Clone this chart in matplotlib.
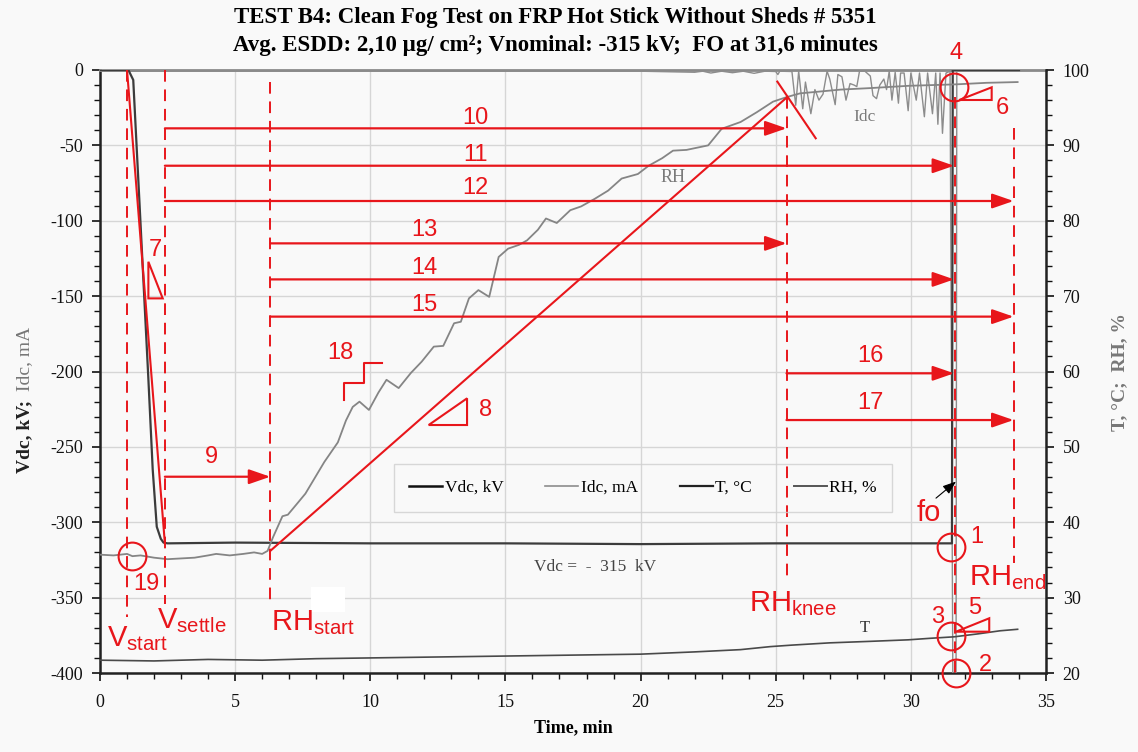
import matplotlib
matplotlib.use('Agg')

import matplotlib.pyplot as plt
from matplotlib.patches import Polygon, Rectangle
from matplotlib.lines import Line2D

plt.rcParams['font.family'] = 'Liberation Serif'
plt.rcParams['axes.unicode_minus'] = False
plt.rcParams['mathtext.fontset'] = 'custom'
plt.rcParams['mathtext.rm'] = 'Liberation Sans'
plt.rcParams['mathtext.it'] = 'Liberation Sans:italic'
plt.rcParams['mathtext.bf'] = 'Liberation Sans:bold'

RED = '#e8161b'
SANS = 'Liberation Sans'

# --- test record (time in minutes) ---
vdc_t = [0.0, 1.05, 1.23, 1.5, 1.79, 1.95, 2.1, 2.25, 2.35, 2.5, 5.0, 10.0, 15.0, 20.0, 25.0, 30.0, 31.52, 31.55, 34.0]
vdc_kv = [0, 0, -6.6, -102, -205, -265, -303, -311, -313.5, -314, -313.5, -314, -314, -314.5, -314, -314, -314, 0, 0]

idc_t = [0.0, 20.0, 22.0, 22.3, 22.6, 23.0, 23.4, 23.8, 24.2, 24.6, 25.0, 25.08, 25.15, 25.6,
         25.74, 25.85, 26.0, 26.1, 26.3, 26.45, 26.6, 26.75, 26.9, 27.0, 27.2, 27.3, 27.45,
         27.6, 27.75, 27.9, 28.0, 28.1, 28.3, 28.5, 28.6, 28.73, 28.85, 29.0, 29.1, 29.2,
         29.3, 29.42, 29.54, 29.62, 29.75, 29.9, 30.0, 30.2, 30.32, 30.5, 30.62, 30.8, 30.92,
         31.0, 31.08, 31.17, 31.3, 31.45, 31.56, 31.67, 31.7, 34.0]
idc_ma = [-0.8, -0.8, -1.5, -0.8, -2.0, -0.8, -1.8, -0.8, -2.2, -0.8, -1.0, -3.0, -0.8, -1.0,
          -23.4, -0.8, -25.7, -8.0, -29.0, -13.0, -20.0, -16.0, -0.8, -6.0, -23.0, -3.0, -4.5,
          -20.0, -9.0, -10.0, -11.0, -0.8, -0.8, -4.0, -17.0, -19.0, -10.0, -6.0, -13.0, -0.8,
          -20.0, -1.5, -22.0, -2.0, -2.0, -27.0, -2.0, -20.0, -2.0, -31.0, -2.0, -29.0, -2.0,
          -36.0, -2.0, -42.0, -2.0, -0.8, -430.0, -430.0, -0.8, -0.8]

rh_t = [0.0, 0.5, 1.0, 1.2, 1.5, 2.0, 2.5, 3.0, 3.5, 4.0, 4.3, 4.8, 5.3, 5.7, 6.0, 6.2, 6.4,
        6.6, 6.75, 6.95, 7.3, 7.6, 7.9, 8.3, 8.8, 9.1, 9.35, 9.6, 9.95, 10.3, 10.6, 11.05,
        11.5, 11.9, 12.35, 12.7, 13.1, 13.35, 13.65, 14.0, 14.4, 14.75, 15.1, 15.5, 15.8,
        16.2, 16.5, 16.9, 17.4, 17.8, 18.3, 18.8, 19.3, 19.9, 20.3, 20.8, 21.2, 21.7, 22.5,
        23.0, 23.7, 24.3, 24.9, 25.4, 25.9, 26.5, 27.4, 28.5, 29.9, 30.8, 31.7, 32.8, 33.95]
rh_pct = [35.7, 35.6, 35.8, 35.5, 35.6, 35.3, 35.1, 35.2, 35.3, 35.6, 35.8, 35.6, 35.8, 36.0,
          35.8, 36.2, 38.0, 39.6, 40.8, 41.0, 42.5, 43.8, 45.6, 48.0, 50.6, 53.5, 55.3, 56.0,
          54.9, 57.2, 58.9, 57.8, 59.8, 61.3, 63.3, 63.4, 66.4, 66.6, 69.7, 70.8, 69.9, 75.2,
          76.3, 76.8, 77.4, 78.8, 80.3, 79.7, 81.4, 81.9, 82.9, 84.0, 85.6, 86.2, 87.3, 88.3,
          89.3, 89.4, 90.0, 92.2, 93.1, 94.4, 95.8, 96.4, 96.9, 97.1, 97.4, 97.6, 97.9, 98.0,
          98.1, 98.3, 98.4]

temp_t = [0.0, 2.0, 4.0, 6.0, 8.0, 10.0, 12.0, 14.0, 16.0, 18.0, 20.0, 22.0, 23.7, 24.8,
          25.6, 27.0, 28.5, 29.9, 30.7, 31.6, 32.5, 33.3, 33.95]
temp_c = [21.7, 21.6, 21.8, 21.7, 21.9, 22.0, 22.1, 22.2, 22.3, 22.4, 22.5, 22.8, 23.1, 23.5,
          23.7, 24.0, 24.2, 24.4, 24.6, 24.8, 25.2, 25.6, 25.8]

# --- stage markers (minutes) and their labels ---
stage_x = [1.0, 2.4, 6.3, 25.4, 31.65, 33.8]
stage_top = [0, 0, -7.7, -18, -18, -38.7]
stage_bottom = [-363, -354, -352, -338, -400, -327]
stage_names = [r'V$_{\mathrm{start}}$', r'V$_{\mathrm{settle}}$', r'RH$_{\mathrm{start}}$',
               r'RH$_{\mathrm{knee}}$', None, r'RH$_{\mathrm{end}}$']
stage_name_x = [0.25, 2.1, 6.32, 24.0, None, 32.16]
stage_name_y = [-382, -370, -371.5, -359.3, None, -341.6]

# interval arrows: label, y level (kV axis), start, end, label position
arrow_ids = ['9', '10', '11', '12', '13', '14', '15', '16', '17']
arrow_y = [-269.8, -38.7, -63.5, -86.9, -115.0, -138.9, -163.6, -201.2, -232.2]
arrow_x0 = [2.4, 2.4, 2.4, 2.4, 6.3, 6.3, 6.3, 25.4, 25.4]
arrow_x1 = [6.3, 25.4, 31.6, 33.8, 25.4, 31.6, 33.8, 31.6, 33.8]
arrow_lx = [4.14, 13.9, 13.9, 13.9, 12.0, 12.0, 12.0, 28.5, 28.5]
arrow_ly = [-256.5, -32.0, -56.4, -78.5, -106.0, -131.5, -156.0, -190.0, -221.0]

# circled points and numbers
circle_ids = ['19', '1', '3', '2', '4']
circle_x = [1.17, 31.5, 31.5, 31.67, 31.58]
circle_y = [-322.2, -316.2, -375.5, -400.2, -11.0]
circle_lx = [1.73, 32.45, 31.0, 32.75, 31.67]
circle_ly = [-341.0, -309.5, -362.6, -394.7, 11.0]

# slope triangles (corner points) with their numbers
tri_ids = ['7', '8', '6', '5']
tri_x = [(1.79, 1.79, 2.32), (12.16, 13.58, 13.58), (31.79, 32.99, 32.99), (31.67, 32.9, 32.9)]
tri_y = [(-127.2, -151.5, -151.5), (-235.5, -217.8, -235.5), (-19.9, -11.5, -19.9), (-372.6, -363.7, -372.6)]
tri_lx = [2.04, 14.25, 33.4, 32.35]
tri_ly = [-119.4, -225.5, -25.4, -357.0]

# ramp lines: voltage rise, RH ramp, knee tangent
ramp_x = [(1.0, 2.4), (6.3, 25.43), (25.06, 26.48)]
ramp_y = [(0.0, -314.0), (-319.0, -17.9), (-7.7, -45.3)]

# RH steps sketch (18)
step_x = [9.01, 9.01, 9.75, 9.75, 10.43]
step_y = [-218.9, -207.8, -207.8, -194.6, -194.6]


fig = plt.figure(figsize=(11.38, 7.52), dpi=100)
fig.patch.set_facecolor('#f9f9f9')
rect = [100 / 1138, 1 - 673 / 752, 946 / 1138, 603 / 752]
ax = fig.add_axes(rect)
ax.set_facecolor('#f9f9f9')
ax2 = ax.twinx()

ax.set_xlim(0, 35)
ax.set_ylim(-400, 0)
ax2.set_ylim(20, 100)

ax.set_xticks(range(0, 36, 5))
ax.set_xticks(range(0, 36), minor=True)
ax.set_yticks(range(-400, 1, 50))
ax.set_yticks(range(-400, 1, 10), minor=True)
ax2.set_yticks(range(20, 101, 10))
ax2.set_yticks(range(20, 101, 2), minor=True)
ax.grid(True, which='major', color='#d6d6d6', lw=1.0)
ax.set_axisbelow(True)

for a in (ax, ax2):
    a.tick_params(which='major', direction='out', length=6, width=1.2, labelsize=13, colors='#111111')
    a.tick_params(which='minor', direction='out', length=4, width=1.0, colors='#111111')
ax.tick_params(axis='y', pad=6)
ax2.tick_params(axis='y', pad=6)
ax.tick_params(axis='x', pad=9)

for side in ('left', 'bottom'):
    ax.spines[side].set_linewidth(1.8)
    ax.spines[side].set_color('#222222')
ax.spines['top'].set_color('#8a8a8a')
ax.spines['top'].set_linewidth(2.0)
ax.spines['right'].set_visible(False)
for side in ('left', 'bottom', 'top'):
    ax2.spines[side].set_visible(False)
ax2.spines['right'].set_linewidth(1.8)
ax2.spines['right'].set_color('#222222')

# white patch in the plot area
ax.add_patch(Rectangle((7.8, -343.0), 1.25, -16.5, facecolor='white', edgecolor='none', zorder=1))

# curves
ax.plot(idc_t, idc_ma, color='#8c8c8c', lw=1.0, zorder=3)
ax.plot(vdc_t, vdc_kv, color='#3c3c3c', lw=1.6, zorder=4)
ax2.plot(rh_t, rh_pct, color='#858585', lw=1.3, zorder=3)
ax2.plot(temp_t, temp_c, color='#4a4a4a', lw=1.2, zorder=3)

ax.text(18.3, -329.5, 'Vdc =  -  315  kV', fontsize=12.5, color='#444444', ha='center', va='center')
ax.text(21.2, -71.0, 'RH', fontsize=13, color='#7a7a7a', ha='center', va='center')
ax.text(28.3, -31.2, 'Idc', fontsize=12.5, color='#7a7a7a', ha='center', va='center')
ax.text(28.3, -370.4, 'T', fontsize=12, color='#333333', ha='center', va='center')

# red markup on an overlay axes sharing the kV scale
mk = fig.add_axes(rect, sharex=ax, sharey=ax)
mk.axis('off')
mk.patch.set_visible(False)

for x, y0, y1, name, nx, ny in zip(stage_x, stage_top, stage_bottom, stage_names, stage_name_x, stage_name_y):
    mk.plot([x, x], [y0, y1], color=RED, lw=1.4, ls=(0, (6, 4)), clip_on=False)
    if name:
        mk.text(nx, ny, name, fontsize=21, family=SANS, color=RED, ha='left', va='baseline')

for lab, y, x0, x1, lx, ly in zip(arrow_ids, arrow_y, arrow_x0, arrow_x1, arrow_lx, arrow_ly):
    mk.annotate('', xy=(x1, y), xytext=(x0, y),
                arrowprops=dict(arrowstyle='-|>,head_length=1.3,head_width=0.45',
                                color=RED, lw=1.6, shrinkA=0, shrinkB=0))
    mk.text(lx, ly, lab, fontsize=17, family=SANS, color=RED, ha='center', va='center')

for xs, ys in zip(ramp_x, ramp_y):
    mk.plot(xs, ys, color=RED, lw=1.5)
mk.plot(step_x, step_y, color=RED, lw=1.5)
mk.text(8.9, -188.0, '18', fontsize=17, family=SANS, color=RED, ha='center', va='center')

for lab, xs, ys, lx, ly in zip(tri_ids, tri_x, tri_y, tri_lx, tri_ly):
    mk.add_patch(Polygon(list(zip(xs, ys)), closed=True, fill=False, edgecolor=RED, lw=1.5))
    mk.text(lx, ly, lab, fontsize=17, family=SANS, color=RED, ha='center', va='center')

for lab, x, y, lx, ly in zip(circle_ids, circle_x, circle_y, circle_lx, circle_ly):
    mk.plot([x], [y], marker='o', ms=20, mfc='none', mec=RED, mew=1.5, clip_on=False)
    mk.text(lx, ly, lab, fontsize=17, family=SANS, color=RED, ha='center', va='center', clip_on=False)

mk.text(30.68, -294.0, 'fo', fontsize=21, family=SANS, color=RED, ha='center', va='center')
mk.annotate('', xy=(31.67, -273.0), xytext=(30.93, -284.0),
            arrowprops=dict(arrowstyle='-|>,head_length=0.8,head_width=0.3', color='black', lw=0.8,
                            shrinkA=0, shrinkB=0))

# legend
handles = [Line2D([], [], color='#111111', lw=1.8),
           Line2D([], [], color='#8c8c8c', lw=1.2),
           Line2D([], [], color='#222222', lw=1.6),
           Line2D([], [], color='#555555', lw=1.4)]
leg = mk.legend(handles, ['Vdc, kV', 'Idc, mA', 'T, °C', 'RH, %'], ncol=4, loc='center',
                bbox_to_anchor=(0.574, 0.307), fontsize=12.5, frameon=True, fancybox=False,
                handlelength=1.9, handletextpad=0.15, columnspacing=2.4, borderpad=0.9)
leg.get_frame().set_facecolor('none')
leg.get_frame().set_edgecolor('#cfcfcf')

ax.set_xlabel('Time, min', fontsize=13, fontweight='bold', labelpad=6)
fig.text(25 / 1138, 1 - 400 / 752, 'Vdc, kV;', rotation=90, rotation_mode='anchor',
         ha='right', va='center', fontsize=14, fontweight='bold', color='#222222')
fig.text(25 / 1138, 1 - 396 / 752, ' Idc, mA', rotation=90, rotation_mode='anchor',
         ha='left', va='center', fontsize=14, color='#777777')
fig.text(1120 / 1138, 1 - 372 / 752, 'T, °C;  RH, %', rotation=90, ha='center', va='center',
         fontsize=14, fontweight='bold', color='#777777')

fig.text(555 / 1138, 1 - 17 / 752, 'TEST B4: Clean Fog Test on FRP Hot Stick Without Sheds # 5351',
         ha='center', va='center', fontsize=16.5, fontweight='bold')
fig.text(555 / 1138, 1 - 45 / 752, 'Avg. ESDD: 2,10 µg/ cm²; Vnominal: -315 kV;  FO at 31,6 minutes',
         ha='center', va='center', fontsize=16.5, fontweight='bold')

fig.savefig('out.png', dpi=100, facecolor=fig.get_facecolor())
